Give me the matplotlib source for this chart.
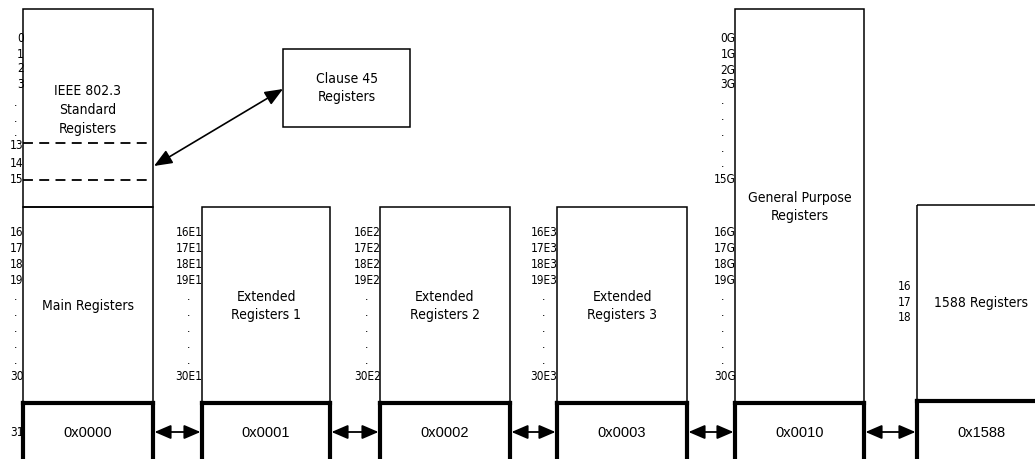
import matplotlib
matplotlib.use("Agg")
import matplotlib.pyplot as plt
from matplotlib.patches import Rectangle

# ---------------- content ----------------
page_names = ["Main Registers", "Extended\nRegisters 1", "Extended\nRegisters 2",
              "Extended\nRegisters 3", "General Purpose\nRegisters", "1588 Registers"]
page_addresses = ["0x0000", "0x0001", "0x0002", "0x0003", "0x0010", "0x1588"]
std_title = "IEEE 802.3\nStandard\nRegisters"
clause45_title = "Clause 45\nRegisters"
std_labels = ["0", "1", "2", "3", ".", ".", ".", "13", "14", "15"]
main_labels = ["16", "17", "18", "19", ".", ".", ".", ".", ".", "30"]
ext1_labels = ["16E1", "17E1", "18E1", "19E1", ".", ".", ".", ".", ".", "30E1"]
ext2_labels = ["16E2", "17E2", "18E2", "19E2", ".", ".", ".", ".", ".", "30E2"]
ext3_labels = ["16E3", "17E3", "18E3", "19E3", ".", ".", ".", ".", ".", "30E3"]
gp_top_labels = ["0G", "1G", "2G", "3G", ".", ".", ".", ".", ".", "15G"]
gp_labels = ["16G", "17G", "18G", "19G", ".", ".", ".", ".", ".", "30G"]
p1588_labels = ["16", "17", "18"]
bottom_label = "31"

# ---------------- layout (pixels) ----------------
W, H = 1035, 460
fig = plt.figure(figsize=(W / 100, H / 100), dpi=100)
ax = fig.add_axes([0, 0, 1, 1])
ax.set_xlim(0, W)
ax.set_ylim(H, 0)
ax.axis("off")

THIN = 1.1
THICK = 3.0
LFONT = dict(family="DejaVu Sans", fontstretch="condensed")
NUM_SIZE = 8.5
NAME_SIZE = 10
HEX_SIZE = 10.5

box_x = [(23, 153), (202, 330), (380, 510), (557, 687), (735, 864), (917, 1045)]
box_top = [208, 208, 208, 208, 10, 206]
thick_y = [404, 404, 404, 404, 404, 402]
name_y = [306, 306, 306, 306, 207, 303]
hex_y = 433

lower_rows = [233, 249, 265, 281, 297, 313, 329, 345, 361, 377]
std_rows = [39, 54, 69, 84, 102, 118, 133, 146, 164, 180]
gp_top_rows = [39, 54, 70, 85, 101, 117, 133, 149, 164, 180]
rows_1588 = [287, 303, 318]


def col_labels(labels, rows, right_x, dot_x):
    for lab, y in zip(labels, rows):
        if lab == ".":
            ax.text(dot_x, y, lab, ha="center", va="center", fontsize=NUM_SIZE, **LFONT)
        else:
            ax.text(right_x + 0.5, y, lab, ha="right", va="center", fontsize=NUM_SIZE, **LFONT)


# page boxes
for i, ((x0, x1), yt, yk) in enumerate(zip(box_x, box_top, thick_y)):
    ax.add_patch(Rectangle((x0, yt), x1 - x0, yk - yt, fill=False, lw=THIN, ec="black"))
    ax.plot([x0, x1], [yk, yk], color="black", lw=THICK, solid_capstyle="projecting")
    ax.plot([x0, x0], [yk, H + 10], color="black", lw=THICK)
    ax.plot([x1, x1], [yk, H + 10], color="black", lw=THICK)
    ax.text((x0 + x1) / 2, name_y[i], page_names[i], ha="center", va="center",
            fontsize=NAME_SIZE, linespacing=1.4, **LFONT)
    ax.text((x0 + x1) / 2, hex_y, page_addresses[i], ha="center", va="center",
            fontsize=HEX_SIZE, family="Liberation Sans")

# standard registers box on top of main
x0, x1 = box_x[0]
ax.add_patch(Rectangle((x0, 10), x1 - x0, 208 - 10, fill=False, lw=THIN, ec="black"))
for yd in (144, 181):
    ax.plot([x0, x1], [yd, yd], color="black", lw=1.3, dashes=(5.5, 3.5))
ax.text((x0 + x1) / 2, 110, std_title, ha="center", va="center",
        fontsize=NAME_SIZE, linespacing=1.45, **LFONT)

# clause 45 box
ax.add_patch(Rectangle((283, 50), 410 - 283, 128 - 50, fill=False, lw=THIN, ec="black"))
ax.text(347, 88, clause45_title, ha="center", va="center", fontsize=NAME_SIZE,
        linespacing=1.4, **LFONT)
ax.annotate("", xy=(283, 90), xytext=(154, 167),
            arrowprops=dict(arrowstyle="<|-|>,head_length=1.1,head_width=0.45",
                            mutation_scale=10, lw=1.2, color="black",
                            shrinkA=0, shrinkB=0))

# row labels
col_labels(std_labels, std_rows, box_x[0][0], 16)
col_labels(main_labels, lower_rows, box_x[0][0], 16)
ax.text(box_x[0][0] + 0.5, hex_y, bottom_label, ha="right", va="center", fontsize=NUM_SIZE, **LFONT)
for labs, (bx0, _) in zip([ext1_labels, ext2_labels, ext3_labels], box_x[1:4]):
    col_labels(labs, lower_rows, bx0, bx0 - 13)
col_labels(gp_top_labels, gp_top_rows, box_x[4][0], box_x[4][0] - 12)
col_labels(gp_labels, lower_rows, box_x[4][0], box_x[4][0] - 12)
col_labels(p1588_labels, rows_1588, box_x[5][0] - 6, 0)

# arrows between pages
for (a0, a1), (b0, b1) in zip(box_x[:-1], box_x[1:]):
    ax.annotate("", xy=(b0 - 1.5, hex_y), xytext=(a1 + 1.5, hex_y),
                arrowprops=dict(arrowstyle="<|-|>,head_length=1.0,head_width=0.43",
                                mutation_scale=10, lw=1.3, color="black",
                                shrinkA=0, shrinkB=0))

fig.savefig("out.png", dpi=100)
